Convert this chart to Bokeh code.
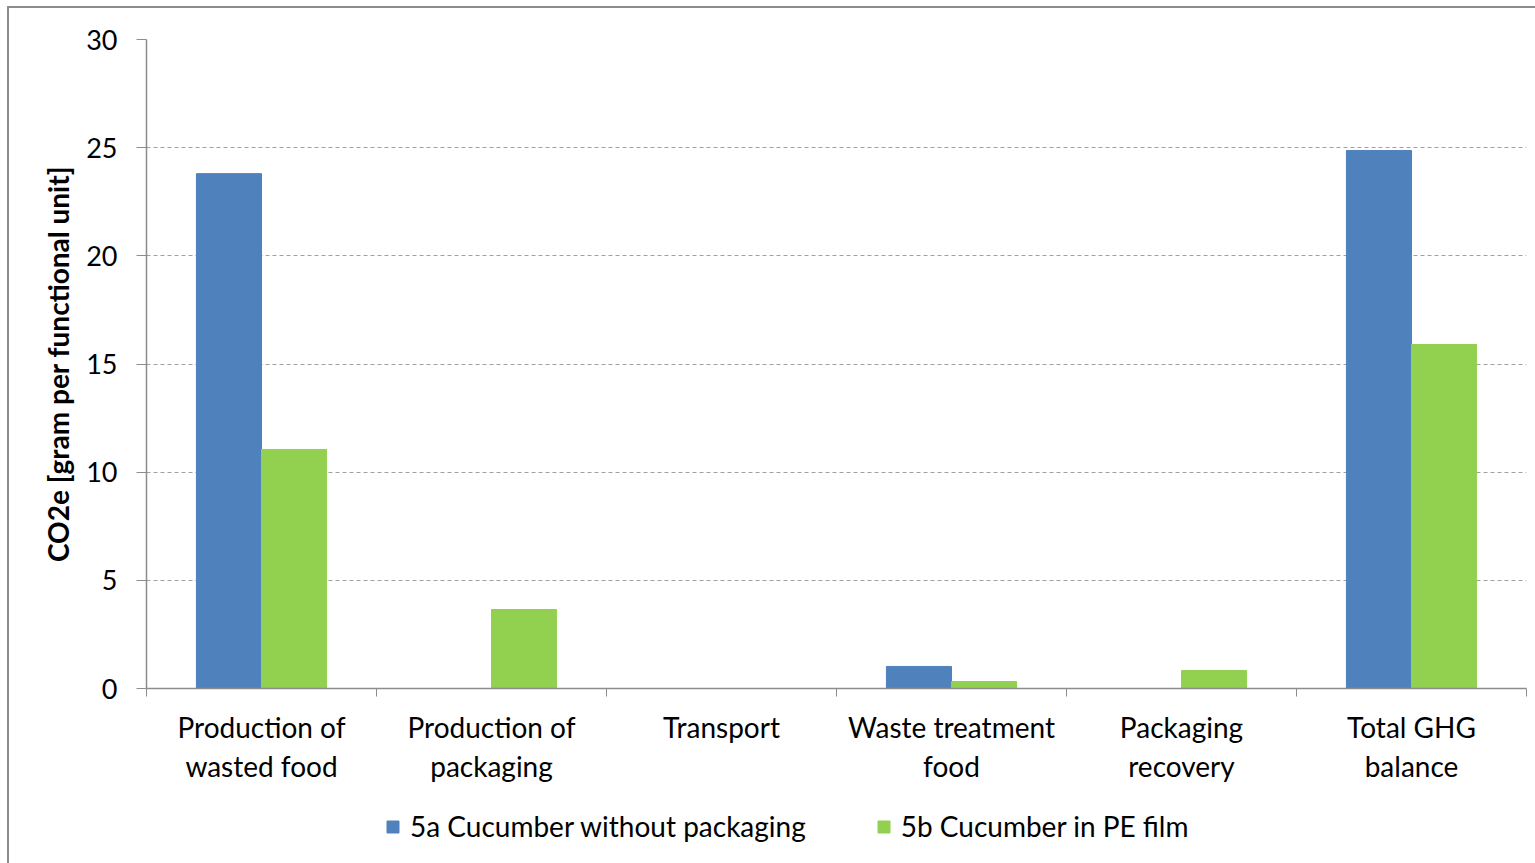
import numpy as np
from bokeh.plotting import figure
from bokeh.layouts import column
from bokeh.models import Range1d, FixedTicker, Legend, LegendItem, ColumnDataSource, LinearAxis
from bokeh.embed import file_html
from bokeh.resources import INLINE

categories = ["Production of\nwasted food", "Production of\npackaging", "Transport",
              "Waste treatment\nfood", "Packaging\nrecovery", "Total GHG\nbalance"]
series_names = ["5a Cucumber without packaging", "5b Cucumber in PE film"]
cucumber_no_pack = [23.8, 0.0, 0.0, 1.02, 0.0, 24.87]
cucumber_pe_film = [11.05, 3.65, 0.0, 0.32, 0.83, 15.9]
y_ticks = [0, 5, 10, 15, 20, 25, 30]

BLUE = "#4F81BD"
GREEN = "#92D050"
AXIS = "#8C8C8C"
FONT = "Lato"

centers = np.arange(len(categories)) + 0.5
bw = 0.283
src = ColumnDataSource(dict(
    xa=centers - bw / 2, xb=centers + bw / 2,
    a=cucumber_no_pack, b=cucumber_pe_film))

p = figure(width=1526, height=792, x_range=Range1d(0, len(categories)),
           y_range=Range1d(0, 30), output_backend="svg", toolbar_location=None,
           min_border_left=137, min_border_right=9, min_border_top=31,
           min_border_bottom=112, x_axis_type=None)
p.outline_line_color = None
p.background_fill_color = "white"
p.border_fill_color = "white"

ra = p.vbar(x="xa", top="a", width=bw, source=src, fill_color=BLUE, line_color=BLUE)
rb = p.vbar(x="xb", top="b", width=bw, source=src, fill_color=GREEN, line_color=GREEN)

# y axis
ya = p.yaxis[0]
ya.ticker = FixedTicker(ticks=y_ticks)
ya.axis_line_color = AXIS
ya.axis_line_width = 1.5
ya.major_tick_line_color = AXIS
ya.major_tick_out = 10
ya.major_tick_in = 0
ya.minor_tick_line_color = None
ya.major_label_standoff = 19
ya.major_label_text_font = FONT
ya.major_label_text_font_size = "27px"
ya.major_label_text_color = "black"
ya.axis_label = "CO2e [gram per functional unit]"
ya.axis_label_text_font = FONT
ya.axis_label_text_font_style = "bold"
ya.axis_label_text_font_size = "28px"
ya.axis_label_text_color = "black"
ya.axis_label_standoff = 8

p.ygrid.ticker = FixedTicker(ticks=y_ticks)
p.ygrid.grid_line_color = "#A0A0A0"
p.ygrid.grid_line_dash = "4 3"
p.ygrid.grid_line_width = 1
p.xgrid.grid_line_color = None

# x axis: labels at category centres, tick marks at category boundaries
xa = LinearAxis()
xa.ticker = FixedTicker(ticks=list(centers), minor_ticks=list(range(len(categories) + 1)))
xa.major_label_overrides = {float(c): lab for c, lab in zip(centers, categories)}
xa.axis_line_color = AXIS
xa.axis_line_width = 1.5
xa.major_tick_line_color = None
xa.major_tick_out = 0
xa.major_tick_in = 0
xa.minor_tick_line_color = AXIS
xa.minor_tick_out = 8
xa.minor_tick_in = 0
xa.major_label_standoff = 13
xa.major_label_text_font = FONT
xa.major_label_text_font_size = "28px"
xa.major_label_text_color = "black"
xa.major_label_text_line_height = 1.16
p.add_layout(xa, "below")

# legend strip below the chart (same data, drawn outside its visible range)
q = figure(width=1526, height=63, x_range=Range1d(0, len(categories)), y_range=Range1d(100, 101),
           output_backend="svg", toolbar_location=None, x_axis_type=None,
           y_axis_type=None, min_border=0)
q.outline_line_color = None
q.xgrid.grid_line_color = None
q.ygrid.grid_line_color = None
la = q.vbar(x="xa", top="a", width=bw, source=src, fill_color=BLUE, line_color=BLUE)
lb = q.vbar(x="xb", top="b", width=bw, source=src, fill_color=GREEN, line_color=GREEN)
legend = Legend(items=[LegendItem(label=series_names[0], renderers=[la]),
                       LegendItem(label=series_names[1], renderers=[lb])],
                orientation="horizontal", location=(239, 20))
legend.label_text_font = FONT
legend.label_text_font_size = "28px"
legend.label_text_color = "black"
legend.glyph_width = 15
legend.glyph_height = 15
legend.label_standoff = 10
legend.spacing = 70
legend.padding = 0
legend.margin = 0
legend.border_line_color = None
legend.background_fill_alpha = 0
q.add_layout(legend, "center")

layout = column(p, q, spacing=0,
                styles={"border-left": "2px solid #8C8C8C", "border-top": "2px solid #8C8C8C",
                        "margin-left": "7px", "margin-top": "6px"})

open("out.html", "w").write(file_html(layout, INLINE))
